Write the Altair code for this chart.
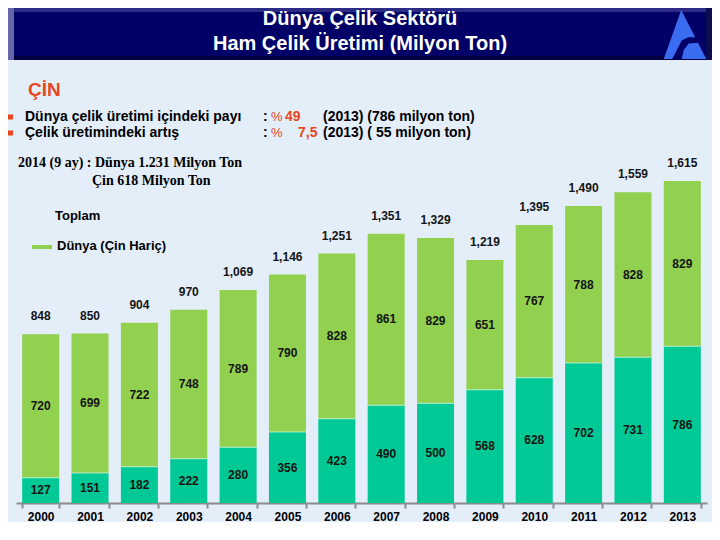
import altair as alt
import pandas as pd

years = ["2000", "2001", "2002", "2003", "2004", "2005", "2006",
         "2007", "2008", "2009", "2010", "2011", "2012", "2013"]
china = [127, 151, 182, 222, 280, 356, 423, 490, 500, 568, 628, 702, 731, 786]
ex_china = [720, 699, 722, 748, 789, 790, 828, 861, 829, 651, 767, 788, 828, 829]
totals = [848, 850, 904, 970, 1069, 1146, 1251, 1351, 1329, 1219, 1395, 1490, 1559, 1615]

GREEN = "#92d050"
TEAL = "#00c995"
NAVY = "#000066"
RED = "#e8461e"
SANS = "Liberation Sans"
SERIF = "Liberation Serif"

df = pd.DataFrame({"year": years, "china": china, "ex": ex_china, "total": totals})
one = pd.DataFrame({"k": [0]})

base = alt.Chart(df).transform_calculate(
    top="datum.china + datum.ex",
    mid_top="datum.china + datum.ex / 2",
    mid_bot="datum.china / 2",
)

x = alt.X(
    "year:O",
    title=None,
    scale=alt.Scale(paddingInner=0.25, paddingOuter=0.125),
    axis=alt.Axis(
        labelAngle=0, labelFont=SANS, labelFontSize=12, labelFontWeight="bold",
        labelColor="#000000", domainColor="#8c8c8c", domainWidth=2,
        tickColor="#8c8c8c", tickWidth=2, tickSize=5, labelPadding=3,
        tickBand="extent",
    ),
)
ysc = alt.Scale(domain=[0, 2483], nice=False, zero=True)


def Y(field):
    return alt.Y(field, scale=ysc, axis=None, title=None)


bars_top = base.mark_bar(color=GREEN).encode(x=x, y=Y("top:Q"), y2="china:Q")
bars_bot = base.mark_bar(color=TEAL).encode(x=x, y=Y("china:Q"))
sep = base.mark_tick(color="#dcfbe8", thickness=1, size=37).encode(x=x, y=Y("china:Q"))

lbl_style = dict(font=SANS, fontSize=12, fontWeight="bold", color="#141414", baseline="middle")
tot_lbl = base.mark_text(dy=-18, **lbl_style).encode(
    x=x, y=Y("top:Q"), text=alt.Text("total:Q", format=",d"))
ex_lbl = base.mark_text(**lbl_style).encode(x=x, y=Y("mid_top:Q"), text="ex:Q")
cn_lbl = base.mark_text(**lbl_style).encode(x=x, y=Y("mid_bot:Q"), text="china:Q")


def rect(x1, x2, y1, y2, color):
    return alt.Chart(one).mark_rect(color=color).encode(
        x=alt.value(x1), x2=alt.value(x2), y=alt.value(y1), y2=alt.value(y2))


def txt(s, xx, yy, size=14, color="#000000", weight="bold", font=SANS, align="left"):
    return alt.Chart(one).mark_text(
        text=s, align=align, baseline="middle", fontSize=size, font=font,
        fontWeight=weight, color=color,
    ).encode(x=alt.value(xx), y=alt.value(yy))


header = [
    rect(-8, 696, 0, 52, NAVY),
    rect(-8, 696, 0, 4, "#2c2c86"),
    rect(-8, 696, 48, 52, "#00003c"),
    rect(-8, -2, 0, 52, "#6666a8"),
    rect(690, 696, 0, 52, "#0c0c50"),
    rect(-2, 690, 4, 48, NAVY),
    txt("Dünya Çelik Sektörü", 344, 11, size=20, color="#ffffff", align="center"),
    txt("Ham Çelik Üretimi (Milyon Ton)", 344, 36, size=20, color="#ffffff", align="center"),
    alt.Chart(one).mark_point(
        shape="M-0.15,-0.98 L0.85,0.98 L-0.85,0.98 Z", filled=True, size=2500,
        color="#3a6cf2", opacity=1, strokeWidth=0,
    ).encode(x=alt.value(669), y=alt.value(26.5)),
    alt.Chart(one).mark_point(
        shape="M-0.51,0.98 L-0.13,0.24 L0.13,0.11 L0.6,0.11 L0.66,0.32 L0.15,0.36 L-0.05,0.62 L-0.13,0.98 Z",
        filled=True, size=2500, color=NAVY, opacity=1, strokeWidth=0,
    ).encode(x=alt.value(669), y=alt.value(26.5)),
]

texts = [
    txt("ÇİN", 12, 82, size=19, color=RED),
    rect(-8, -3, 106.5, 111.5, RED),
    rect(-8, -3, 122.5, 127.5, RED),
    txt("Dünya çelik üretimi içindeki payı", 9, 109),
    txt("Çelik üretimindeki artış", 9, 125),
    txt(":", 247, 109),
    txt("%", 255, 109, size=13, weight="normal", color=RED),
    txt("49", 269, 109, color=RED),
    txt("(2013) (786 milyon ton)", 307, 109),
    txt(":", 247, 125),
    txt("%", 255, 125, size=13, weight="normal", color=RED),
    txt("7,5", 282, 125, color=RED),
    txt("(2013) ( 55 milyon ton)", 307, 125),
    txt("2014 (9 ay) : Dünya 1.231 Milyon Ton", 2, 155, size=14, font=SERIF),
    txt("Çin 618 Milyon Ton", 76, 173, size=14, font=SERIF),
    txt("Toplam", 39, 208, size=13),
    rect(16, 36, 237, 241, GREEN),
    txt("Dünya (Çin Hariç)", 41, 238, size=13),
]

chart = alt.layer(
    bars_top, bars_bot, sep, tot_lbl, ex_lbl, cn_lbl, *header, *texts
).properties(
    width=691, height=495, padding=0, background="#e4eef9"
).configure_view(stroke=None)

chart.save("out.html", embed_options={"renderer": "svg", "actions": False})
